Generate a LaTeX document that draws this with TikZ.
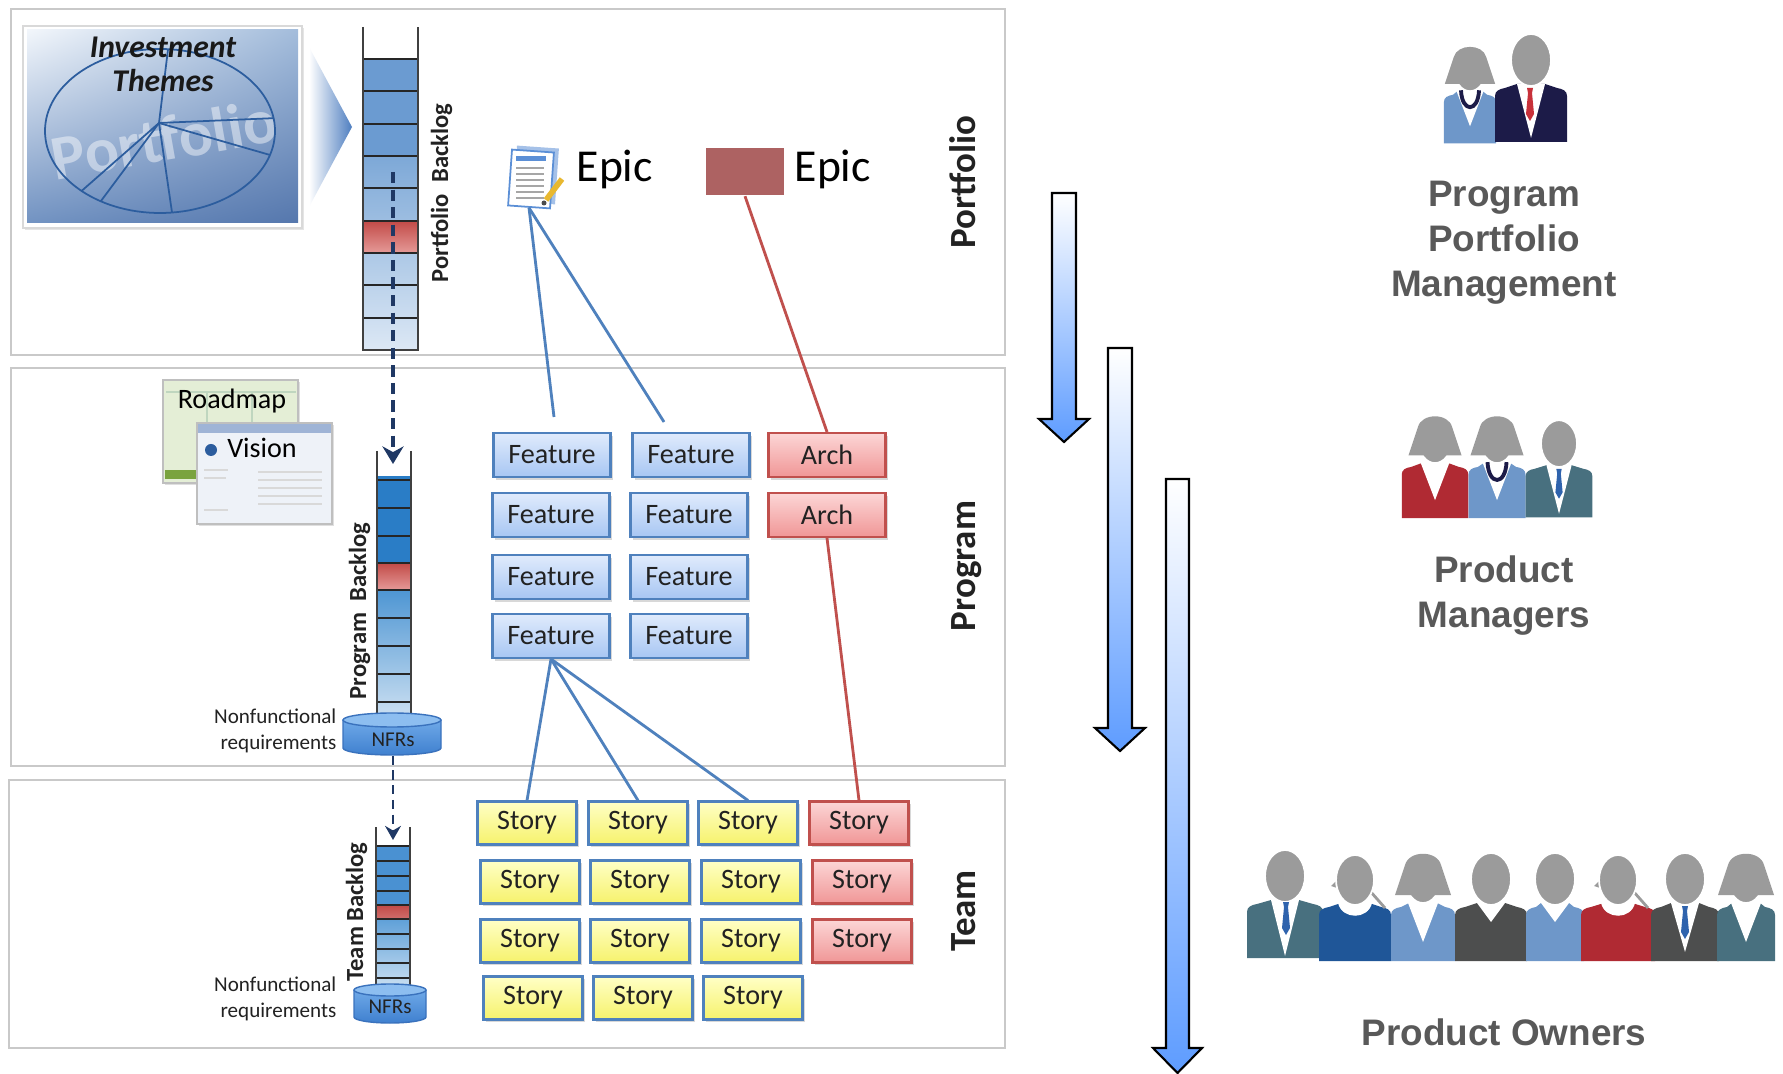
\documentclass[tikz,border=0pt]{standalone}
\usepackage{fontspec}
\setmainfont{Carlito}
\newfontfamily\rolefont{Liberation Sans}
\usepackage{tikz}
\usetikzlibrary{arrows.meta, shadows, shadings}
\usepackage{xcolor}
\definecolor{panel_gray}{HTML}{C9C9C9}
\definecolor{text_dark}{HTML}{222222}
\definecolor{role_gray}{HTML}{595959}
\definecolor{feature_top}{HTML}{E0EBFC}
\definecolor{feature_bottom}{HTML}{A7C6F3}
\definecolor{item_border}{HTML}{4F81BD}
\definecolor{story_top}{HTML}{FFFFC6}
\definecolor{story_bottom}{HTML}{F6F26C}
\definecolor{arch_top}{HTML}{FCD6D6}
\definecolor{arch_bottom}{HTML}{F09696}
\definecolor{arch_border}{HTML}{C0504D}
\definecolor{epic_red}{HTML}{AD6262}
\definecolor{doc_blue}{HTML}{5B8FD6}
\definecolor{pencil_yellow}{HTML}{E8B830}
\definecolor{flow_navy}{HTML}{1F3864}
\definecolor{theme_line}{HTML}{2C5D9E}
\definecolor{theme_light}{HTML}{F2F6FB}
\definecolor{theme_right}{HTML}{A3BCDB}
\definecolor{theme_left}{HTML}{7293C2}
\definecolor{theme_dark}{HTML}{5577AD}
\definecolor{chevron_blue}{HTML}{4E7EC0}
\definecolor{roadmap_green}{HTML}{E4EED6}
\definecolor{roadmap_bar}{HTML}{7AA33F}
\definecolor{vision_bg}{HTML}{EEF2F8}
\definecolor{vision_bar}{HTML}{9FB4D6}
\definecolor{pf_cell}{HTML}{6B9BD1}
\definecolor{pf_mid}{HTML}{7DA8D7}
\definecolor{pf_light}{HTML}{DCE8F5}
\definecolor{pg_cell}{HTML}{2A7DC6}
\definecolor{pg_mid}{HTML}{4E96D3}
\definecolor{pg_light}{HTML}{C9DEF1}
\definecolor{tm_cell}{HTML}{4A91D2}
\definecolor{tm_mid}{HTML}{5FA0D8}
\definecolor{tm_light}{HTML}{D3E5F4}
\definecolor{cell_red}{HTML}{C24A47}
\definecolor{cell_pink}{HTML}{E59A98}
\definecolor{nfr_top}{HTML}{6FA9E8}
\definecolor{nfr_body}{HTML}{3F80CF}
\definecolor{nfr_end}{HTML}{8DBEF0}
\definecolor{nfr_edge}{HTML}{3A72BD}
\definecolor{arrow_blue}{HTML}{5E9CFF}
\definecolor{face_gray}{HTML}{9B9B9B}
\definecolor{suit_light}{HTML}{6E97C9}
\definecolor{suit_navy}{HTML}{1C1B48}
\definecolor{suit_teal}{HTML}{48707F}
\definecolor{suit_red}{HTML}{B02A33}
\definecolor{suit_dark}{HTML}{4D4E4E}
\definecolor{suit_blue}{HTML}{1F5698}
\definecolor{tie_blue}{HTML}{2F63AD}
\definecolor{tie_red}{HTML}{C8313A}

\tikzset{
  panelbox/.style={draw=panel_gray, line width=0.7pt, fill=white},
  cardbox/.style={inner sep=0pt, minimum height=4.4mm, line width=0.6pt, text=text_dark,
    font=\fontsize{8}{9.6}\selectfont,
    drop shadow={shadow xshift=0.8pt, shadow yshift=-0.8pt, opacity=0.3}},
  featurebox/.style={cardbox, minimum width=11.7mm, draw=item_border, top color=feature_top, bottom color=feature_bottom},
  archbox/.style={cardbox, minimum width=11.7mm, draw=arch_border, top color=arch_top, bottom color=arch_bottom},
  storybox/.style={cardbox, minimum width=9.9mm, minimum height=4.3mm, draw=item_border, top color=story_top, bottom color=story_bottom},
  redstorybox/.style={storybox, draw=arch_border, top color=arch_top, bottom color=arch_bottom},
  bluelink/.style={item_border, line width=0.8pt},
  redlink/.style={arch_border, line width=0.8pt},
  flowarrow/.style={flow_navy, line width=1.2pt, dash pattern=on 3.2pt off 1.8pt, -{Stealth[length=5pt, width=6pt]}},
  layerlabel/.style={rotate=90, anchor=base, text=text_dark, font=\fontsize{10.5}{12}\selectfont\bfseries},
  backloglabel/.style={rotate=90, anchor=base, text=text_dark, font=\fontsize{7}{8}\selectfont\bfseries},
  nfrnote/.style={align=right, anchor=east, inner sep=0pt, text=text_dark, font=\fontsize{6}{7.3}\selectfont},
  nfrlabel/.style={inner sep=0pt, text=text_dark, font=\fontsize{6}{7}\selectfont},
  rolelabel/.style={align=center, text=role_gray, font=\rolefont\bfseries\fontsize{10.5}{12.8}\selectfont},
  epictext/.style={anchor=base west, inner sep=0pt, font=\fontsize{13}{15}\selectfont},
  wallline/.style={black!75, line width=0.5pt},
  cellline/.style={black!85, line width=0.4pt},
  gradarrow/.style={draw=black, line width=0.6pt, top color=white, bottom color=arrow_blue},
  docpage/.style={draw=doc_blue, fill=white, line width=0.5pt, minimum width=4.2mm, minimum height=5.6mm, inner sep=0pt},
}

% body of a person, local coordinates, shoulders at y=0
\newcommand{\torso}[2]{%
  \fill[#2] (-#1,56) -- (-#1,10) .. controls (-#1,5) and ({-#1+4},3) .. ({-#1+10},2)
    -- (-14,-2) -- (14,-2) -- ({#1-10},2) .. controls ({#1-4},3) and (#1,5) .. (#1,10) -- (#1,56) -- cycle;}
% man: x, shoulder y, scale, half width, colour, depth of the V
\newcommand{\suitman}[6]{%
  \begin{scope}[shift={(#1,#2)}, scale=#3]
    \torso{#4}{#5}
    \fill[white] (-14,-2) -- (0,#6) -- (14,-2) -- cycle;
    \filldraw[face_gray, draw=white, line width=0.5pt] (0,-26) ellipse [x radius=20, y radius=26];
  \end{scope}}
% woman with long hair
\newcommand{\longhair}[5]{%
  \begin{scope}[shift={(#1,#2)}, scale=#3]
    \torso{#4}{#5}
    \fill[white] (-15,-2) -- (0,37) -- (15,-2) -- cycle;
    \filldraw[face_gray, draw=white, line width=0.5pt] (0,-24) ellipse [x radius=17, y radius=22];
    \fill[face_gray] (-28,-10) -- (-18,-40) .. controls (-14,-55) and (14,-55) .. (18,-40) -- (28,-10) -- cycle;
  \end{scope}}
% woman with short hair
\newcommand{\shorthair}[5]{%
  \begin{scope}[shift={(#1,#2)}, scale=#3]
    \torso{#4}{#5}
    \fill[white] (-17,-2) .. controls (-13,15) and (13,15) .. (17,-2) -- cycle;
    \fill[face_gray] (-16,-27) -- (-24,-19) -- (-15,-16) -- cycle;
    \draw[face_gray, line width=0.8pt] (15,-14) -- (30,3);
    \filldraw[face_gray, draw=white, line width=0.5pt] (0,-25) ellipse [x radius=19, y radius=25];
  \end{scope}}
\newcommand{\necktie}[4]{%
  \begin{scope}[shift={(#1,#2)}, scale=#3]
    \fill[#4] (-3,0) -- (3,0) -- (2,5) -- (4,26) -- (0,33) -- (-4,26) -- (-2,5) -- cycle;
  \end{scope}}
\newcommand{\necklace}[3]{%
  \begin{scope}[shift={(#1,#2)}, scale=#3]
    \draw[suit_navy, line width=1.1pt] (-10,-3) .. controls (-9,22) and (9,22) .. (10,-3);
  \end{scope}}
% block arrow: left, right, top, head base, tip
\newcommand{\downblock}[5]{%
  \draw[gradarrow] (#1,#3) -- (#2,#3) -- (#2,#4) -- ({#2+13},#4) -- ({(#1+#2)/2},#5)
    -- ({#1-13},#4) -- (#1,#4) -- cycle;}

\begin{document}
\begin{tikzpicture}[x=0.1mm, y=-0.1mm]
	\useasboundingbox (0,0) rectangle (1783,1074);

	% the three layers
	\draw[panelbox] (11,9) rectangle (1005,355);
	\draw[panelbox] (11,368) rectangle (1005,766);
	\draw[panelbox] (9,780) rectangle (1005,1048);
	\node[layerlabel] (portfolio) at (975,182) {Portfolio};
	\node[layerlabel] (program) at (975,566) {Program};
	\node[layerlabel] (team) at (975,911) {Team};

	% investment themes picture
	\filldraw[fill=white, draw=black!15, drop shadow={shadow xshift=0.6pt, shadow yshift=-0.6pt, opacity=0.2}] (23,26) rectangle (302,228);
	\shade[upper left=theme_light, upper right=theme_right, lower left=theme_left, lower right=theme_dark] (27,30) rectangle (298,223);
	\node[text=white, opacity=0.45, rotate=10, inner sep=0pt, font=\fontsize{18}{20}\selectfont\bfseries] (watermark) at (164,139) {Portfolio};
	\draw[theme_line, line width=0.5pt] (160,131) ellipse [x radius=115, y radius=82];
	\foreach \a in {-86,-9,17,84,121,133} {
		\draw[theme_line, line width=0.5pt] (159,123) -- ({160+115*cos(\a)},{131+82*sin(\a)});
	}
	\node[align=center, inner sep=0pt, text=black!90, font=\fontsize{9}{9.7}\selectfont\bfseries\itshape] (themes) at (163,64) {Investment\\Themes};
	\shade[left color=white, right color=chevron_blue] (309,47) -- (352,127) -- (309,207) -- cycle;

	% portfolio backlog
	\fill[pf_cell] (363,59) rectangle (418,156);
	\shade[top color=pf_mid, bottom color=pf_light] (363,156) rectangle (418,350);
	\shade[top color=cell_red, bottom color=cell_pink] (363,221) rectangle (418,253);
	\foreach \y in {59,91,124,156,188,221,253,285,318} {
		\draw[cellline] (363,\y) -- (418,\y);
	}
	\draw[wallline] (363,27) -- (363,350) -- (418,350) -- (418,27);
	\node[backloglabel] (pflabel) at (448,193) {Portfolio\ \ Backlog};

	% roadmap and vision
	\filldraw[fill=roadmap_green, draw=black!25, drop shadow={shadow xshift=0.6pt, shadow yshift=-0.6pt, opacity=0.25}] (163,380) rectangle (298,483);
	\draw[green!35!black!25] (207,392) -- (207,468) (252,392) -- (252,468) (166,392) -- (296,392);
	\fill[roadmap_bar] (165,470) rectangle (196,479);
	\node[inner sep=0pt, font=\fontsize{8}{9.6}\selectfont] (roadmap) at (232,401) {Roadmap};
	\filldraw[fill=vision_bg, draw=black!25, drop shadow={shadow xshift=0.6pt, shadow yshift=-0.6pt, opacity=0.25}] (197,423) rectangle (332,524);
	\fill[vision_bar] (198,424) rectangle (331,433);
	\fill[theme_line] (211,450) circle (6);
	\foreach \y in {472,480,488,496,504} {
		\draw[black!15] (258,\y) -- (322,\y);
	}
	\draw[black!15] (204,470) -- (228,470) (204,478) -- (226,478) (204,510) -- (228,510);
	\node[inner sep=0pt, font=\fontsize{8}{9.6}\selectfont] (vision) at (262,448) {Vision};

	% program backlog
	\fill[pg_cell] (377,476) rectangle (411,563);
	\shade[top color=cell_red, bottom color=cell_pink] (377,563) rectangle (411,590);
	\shade[top color=pg_mid, bottom color=pg_light] (377,590) rectangle (411,714);
	\foreach \y in {480,508,536,563,590,618,646,674,702} {
		\draw[cellline] (377,\y) -- (411,\y);
	}
	\draw[wallline] (377,451) -- (377,714) (411,451) -- (411,714);
	\node[backloglabel] (pglabel) at (366,611) {Program\ \ Backlog};
	\shade[top color=nfr_top, bottom color=nfr_body] (343,720) -- (343,748) arc [start angle=180, end angle=0, x radius=49, y radius=7] -- (441,720) -- cycle;
	\draw[nfr_edge, line width=0.4pt] (343,720) -- (343,748) arc [start angle=180, end angle=0, x radius=49, y radius=7] -- (441,720);
	\filldraw[fill=nfr_end, draw=nfr_edge, line width=0.4pt] (392,720) ellipse [x radius=49, y radius=7];
	\node[nfrlabel, minimum height=3mm] (nfrprog) at (393,740) {NFRs};
	\node[nfrnote] (pgnote) at (337,731) {Nonfunctional\\requirements};

	% team backlog
	\fill[tm_cell] (376,846) rectangle (410,905);
	\shade[top color=cell_red, bottom color=cell_red!80] (376,905) rectangle (410,919);
	\shade[top color=tm_mid, bottom color=tm_light] (376,919) rectangle (410,993);
	\foreach \y in {846,861,876,891,905,919,934,949,963,978} {
		\draw[cellline] (376,\y) -- (410,\y);
	}
	\draw[wallline] (376,827) -- (376,993) (410,827) -- (410,993);
	\node[backloglabel] (tmlabel) at (363,912) {Team Backlog};
	\shade[top color=nfr_top, bottom color=nfr_body] (354,990) -- (354,1017) arc [start angle=180, end angle=0, x radius=36, y radius=6] -- (426,990) -- cycle;
	\draw[nfr_edge, line width=0.4pt] (354,990) -- (354,1017) arc [start angle=180, end angle=0, x radius=36, y radius=6] -- (426,990);
	\filldraw[fill=nfr_end, draw=nfr_edge, line width=0.4pt] (390,990) ellipse [x radius=36, y radius=6];
	\node[nfrlabel] (nfrteam) at (390,1007) {NFRs};
	\node[nfrnote] (tmnote) at (337,999) {Nonfunctional\\requirements};

	% flow between the backlogs
	\coordinate (pfdot) at (393,172);
	\coordinate (pgin) at (393,464);
	\coordinate (tmin) at (393,840);
	\draw[flowarrow] (pfdot) -- (pgin);
	\draw[flowarrow, line width=0.8pt, dash pattern=on 2.6pt off 1.6pt, -{Stealth[length=4pt, width=4.5pt]}] (nfrprog.south) -- (tmin);

	% epics
	\node[docpage, fill=doc_blue!55, draw=none, rotate=-4] (docback) at (536,175) {};
	\node[docpage, rotate=-4] (epicdoc) at (531,179) {};
	\fill[doc_blue] (516,156) rectangle (546,161);
	\foreach \y in {168,174,180,186,192,198} {
		\draw[black!35, line width=0.3pt] (516,\y) -- (544,\y);
	}
	\draw[pencil_yellow, line width=1.6pt] (546,200) -- (562,179);
	\fill[black!70] (544,203) circle (2.5);
	\node[epictext] (epicone) at (576,182) {Epic};
	\node[fill=epic_red, minimum width=7.8mm, minimum height=4.7mm, inner sep=0pt] (epicbox) at (745,172) {};
	\node[epictext] (epictwo) at (794,182) {Epic};

	% features and architecture
	\node[featurebox] (f11) at (552,455) {Feature};
	\node[featurebox] (f12) at (691,455) {Feature};
	\node[archbox] (a1) at (827,455) {Arch};
	\node[featurebox] (f21) at (551,515) {Feature};
	\node[featurebox] (f22) at (689,515) {Feature};
	\node[archbox] (a2) at (827,515) {Arch};
	\node[featurebox] (f31) at (551,577) {Feature};
	\node[featurebox] (f32) at (689,577) {Feature};
	\node[featurebox] (f41) at (551,636) {Feature};
	\node[featurebox] (f42) at (689,636) {Feature};

	% stories
	\node[storybox] (s11) at (527,823) {Story};
	\node[storybox] (s12) at (638,823) {Story};
	\node[storybox] (s13) at (748,823) {Story};
	\node[redstorybox] (s14) at (859,823) {Story};
	\foreach \r/\y in {2/882, 3/941} {
		\node[storybox] (s\r1) at (530,\y) {Story};
		\node[storybox] (s\r2) at (640,\y) {Story};
		\node[storybox] (s\r3) at (751,\y) {Story};
		\node[redstorybox] (s\r4) at (862,\y) {Story};
	}
	\node[storybox] (s41) at (533,998) {Story};
	\node[storybox] (s42) at (643,998) {Story};
	\node[storybox] (s43) at (753,998) {Story};

	% links
	\coordinate (f11in) at (554,417);
	\coordinate (f12in) at (664,422);
	\draw[bluelink] (epicdoc.south) -- (f11in);
	\draw[bluelink] (epicdoc.south) -- (f12in);
	\draw[redlink] (epicbox.south) -- (a1.north);
	\draw[redlink] (a2.south) -- (s14.north);
	\draw[bluelink] (f41.south) -- (s11.north);
	\draw[bluelink] (f41.south) -- (s12.north);
	\draw[bluelink] (f41.south) -- (s13.north);

	% refinement arrows
	\downblock{1052}{1076}{193}{419}{442}
	\downblock{1108}{1132}{348}{728}{751}
	\downblock{1166}{1189}{479}{1048}{1073}

	% roles
	\longhair{1470}{93}{0.9}{29}{suit_light}
	\necklace{1470}{93}{0.9}
	\suitman{1531}{86}{1}{36}{suit_navy}{52}
	\necktie{1530}{88}{1}{tie_red}
	\node[rolelabel] (ppm) at (1504,243) {Program\\Portfolio\\Management};

	\longhair{1435}{465}{0.95}{35}{suit_red}
	\longhair{1497}{465}{0.95}{30}{suit_light}
	\necklace{1497}{465}{0.95}
	\suitman{1559}{467}{0.9}{37}{suit_teal}{52}
	\necktie{1559}{469}{0.9}{tie_blue}
	\node[rolelabel] (pm) at (1504,596) {Product\\Managers};

	\suitman{1285}{902}{1}{38}{suit_teal}{54}
	\necktie{1286}{902}{1}{tie_blue}
	\shorthair{1355}{905}{1}{36}{suit_blue}
	\longhair{1423}{905}{1}{32}{suit_light}
	\suitman{1491}{905}{1}{36}{suit_dark}{17}
	\suitman{1555}{905}{1}{29}{suit_light}{17}
	\shorthair{1618}{905}{1}{37}{suit_red}
	\suitman{1685}{905}{1}{34}{suit_dark}{47}
	\necktie{1685}{906}{1}{tie_blue}
	\longhair{1746}{905}{1}{29}{suit_teal}
	\node[rolelabel] (po) at (1504,1032) {Product Owners};
\end{tikzpicture}
\end{document}
